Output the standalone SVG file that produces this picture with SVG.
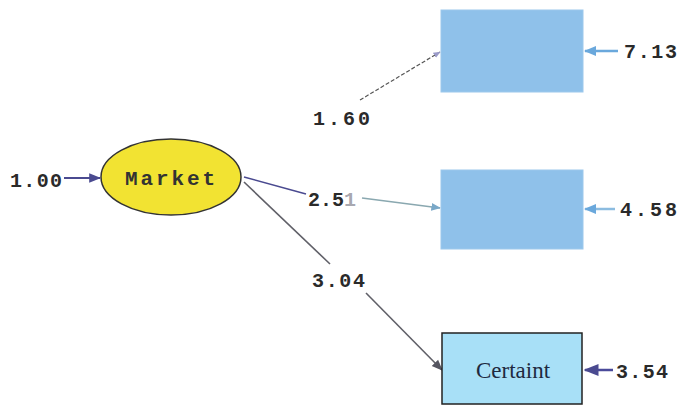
<svg xmlns="http://www.w3.org/2000/svg" width="682" height="406" viewBox="0 0 682 406">
  <defs>
    <style>
      .num { font-family: "Liberation Mono", "DejaVu Sans Mono", monospace; font-weight: bold; font-size: 20px; fill: #2a2a2a; }
      .obs { fill: #8fc1ea; stroke: #9cc8ec; stroke-width: 1; }
      .err { stroke-width: 2.5; fill: none; }
    </style>
    <marker id="ahDark" viewBox="0 0 10 10" refX="9" refY="5" markerWidth="6" markerHeight="6" orient="auto">
      <path d="M0,1 L10,5 L0,9 z" fill="#4a4a90"/>
    </marker>
    <marker id="ahGray" viewBox="0 0 10 10" refX="9" refY="5" markerWidth="7" markerHeight="7" orient="auto">
      <path d="M0,1 L10,5 L0,9 z" fill="#555560"/>
    </marker>
    <marker id="ahPale" viewBox="0 0 10 10" refX="9" refY="5" markerWidth="6" markerHeight="6" orient="auto">
      <path d="M0,1 L10,5 L0,9 z" fill="#9a9ac8"/>
    </marker>
    <marker id="ahTeal" viewBox="0 0 10 10" refX="9" refY="5" markerWidth="6" markerHeight="6" orient="auto">
      <path d="M0,1 L10,5 L0,9 z" fill="#7aa8c8"/>
    </marker>
    <marker id="ahBlue" viewBox="0 0 10 10" refX="9" refY="5" markerWidth="5" markerHeight="5" orient="auto">
      <path d="M0,1 L10,5 L0,9 z" fill="#6aa8dc"/>
    </marker>
  </defs>

  <rect width="682" height="406" fill="#ffffff"/>

  <!-- paths and error terms -->
  <g id="connectors">
    <line x1="64" y1="178" x2="100" y2="178" stroke="#4a4a90" stroke-width="2" marker-end="url(#ahDark)"/>
    <line x1="360" y1="100" x2="440" y2="52" stroke="#555" stroke-width="1.2" stroke-dasharray="4,2" marker-end="url(#ahPale)"/>
    <line x1="244" y1="177" x2="306" y2="194" stroke="#4a4a90" stroke-width="1.6"/>
    <line x1="362" y1="198" x2="440" y2="208" stroke="#8aa8b0" stroke-width="1.6" marker-end="url(#ahTeal)"/>
    <line x1="244" y1="182" x2="330" y2="264" stroke="#606068" stroke-width="1.6"/>
    <line x1="366" y1="293" x2="442" y2="370" stroke="#606068" stroke-width="1.6" marker-end="url(#ahGray)"/>
    <line x1="618" y1="51" x2="585" y2="51" class="err" stroke="#6aa8dc" marker-end="url(#ahBlue)"/>
    <line x1="615" y1="209" x2="585" y2="209" class="err" stroke="#8cbce0" marker-end="url(#ahBlue)"/>
    <line x1="613" y1="370" x2="585" y2="370" class="err" stroke="#4a4a9a" marker-end="url(#ahDark)"/>
  </g>

  <!-- coefficient labels -->
  <g id="labels">
    <text class="num" x="10" y="187" textLength="52">1.00</text>
    <text class="num" x="313" y="125" textLength="57">1.60</text>
    <text class="num" x="308" y="206" textLength="48">2.5<tspan fill="#a8a8b0">1</tspan></text>
    <text class="num" x="312" y="287" textLength="53">3.04</text>
    <text class="num" x="624" y="58" textLength="53">7.13</text>
    <text class="num" x="620" y="216" textLength="57">4.58</text>
    <text class="num" x="616" y="378" textLength="52">3.54</text>
  </g>

  <g id="market">
    <ellipse cx="171" cy="177" rx="70" ry="38" fill="#f2e332" stroke="#333" stroke-width="1.5"/>
    <text x="170" y="185" text-anchor="middle" font-family="Liberation Mono, monospace" font-weight="bold" font-size="21" fill="#333" textLength="90">Market</text>
  </g>

  <g id="obs1">
    <rect class="obs" x="441" y="10" width="142" height="82"/>
  </g>

  <g id="obs2">
    <rect class="obs" x="441" y="170" width="142" height="79"/>
  </g>

  <g id="certaint">
    <rect x="442" y="333" width="140" height="71" fill="#a8e0f7" stroke="#222" stroke-width="1.5"/>
    <text x="513" y="378" text-anchor="middle" font-family="Liberation Serif, serif" font-size="23" fill="#1e2a40">Certaint</text>
  </g>
</svg>
